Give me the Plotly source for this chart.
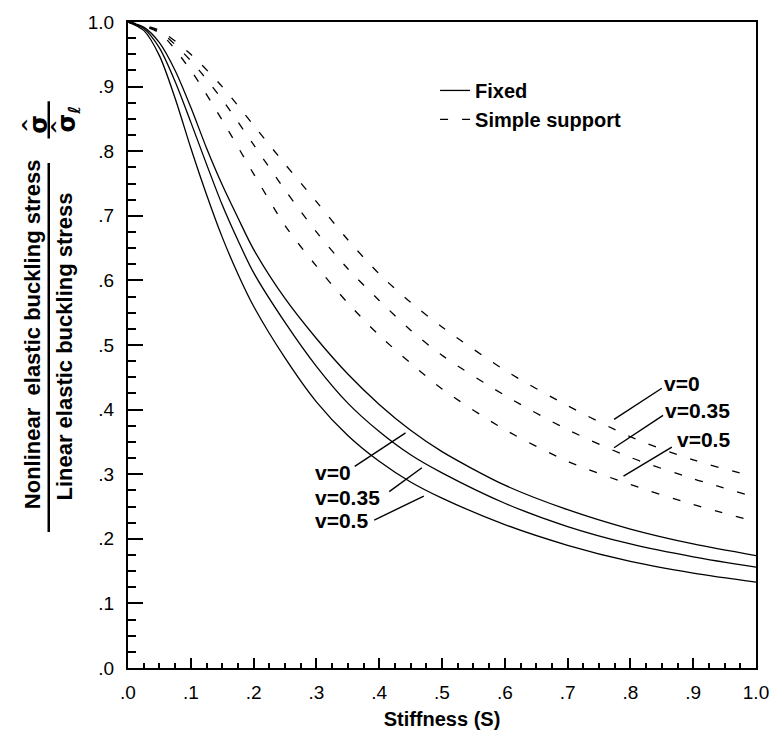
import plotly.graph_objects as go

# ---------------- data ----------------
S_fixed = [0, 0.025, 0.05, 0.075, 0.1, 0.125, 0.15, 0.175, 0.2, 0.25, 0.3,
           0.35, 0.4, 0.45, 0.5, 0.6, 0.7, 0.8, 0.9, 1.0]
fixed_nu0 = [1.0, 0.992, 0.968, 0.925, 0.868, 0.805, 0.748, 0.697, 0.648, 0.572,
             0.51, 0.455, 0.408, 0.368, 0.335, 0.283, 0.245, 0.215, 0.192, 0.174]
fixed_nu035 = [1.0, 0.99, 0.96, 0.908, 0.845, 0.78, 0.717, 0.662, 0.612, 0.535,
               0.467, 0.41, 0.366, 0.33, 0.302, 0.255, 0.219, 0.192, 0.172, 0.156]
fixed_nu05 = [1.0, 0.987, 0.948, 0.882, 0.805, 0.733, 0.667, 0.61, 0.56, 0.48,
              0.412, 0.36, 0.32, 0.288, 0.263, 0.222, 0.19, 0.165, 0.147, 0.133]

S_simple = [0, 0.05, 0.1, 0.15, 0.2, 0.25, 0.3, 0.35, 0.4, 0.45, 0.5, 0.6,
            0.7, 0.8, 0.9, 0.99]
simple_nu0 = [1.0, 0.987, 0.95, 0.90, 0.84, 0.78, 0.722, 0.663, 0.61, 0.566,
              0.528, 0.461, 0.406, 0.358, 0.322, 0.298]
simple_nu035 = [1.0, 0.985, 0.94, 0.88, 0.81, 0.74, 0.675, 0.618, 0.569, 0.523,
                0.484, 0.422, 0.369, 0.326, 0.293, 0.267]
simple_nu05 = [1.0, 0.983, 0.925, 0.848, 0.765, 0.685, 0.622, 0.565, 0.515,
               0.472, 0.432, 0.369, 0.32, 0.284, 0.253, 0.229]

x_tick_vals = [0, 0.1, 0.2, 0.3, 0.4, 0.5, 0.6, 0.7, 0.8, 0.9, 1.0]
x_tick_text = [".0", ".1", ".2", ".3", ".4", ".5", ".6", ".7", ".8", ".9", "1.0"]
y_tick_vals = [0, 0.1, 0.2, 0.3, 0.4, 0.5, 0.6, 0.7, 0.8, 0.9, 1.0]
y_tick_text = [".0", ".1", ".2", ".3", ".4", ".5", ".6", ".7", ".8", ".9", "1.0"]

nu_labels = ["v=0", "v=0.35", "v=0.5"]
# label anchor points (S, ratio) and leader line end points
fixed_label_pos = [(0.295, 0.302), (0.295, 0.264), (0.295, 0.229)]
fixed_leaders = [((0.361, 0.312), (0.442, 0.364)),
                 ((0.416, 0.273), (0.468, 0.310)),
                 ((0.392, 0.229), (0.471, 0.266))]
simple_label_pos = [(0.850, 0.441), (0.852, 0.398), (0.871, 0.353)]
simple_leaders = [((0.774, 0.385), (0.850, 0.433)),
                  ((0.774, 0.341), (0.852, 0.391)),
                  ((0.789, 0.297), (0.866, 0.342))]

FONT = "Liberation Sans"

fig = go.Figure()
for i, ys in enumerate([fixed_nu0, fixed_nu035, fixed_nu05]):
    fig.add_trace(go.Scatter(
        x=S_fixed, y=ys, mode="lines", name="Fixed", legendgroup="fixed",
        showlegend=(i == 0),
        line=dict(color="black", width=1.3, shape="spline", smoothing=0.8)))
for i, ys in enumerate([simple_nu0, simple_nu035, simple_nu05]):
    fig.add_trace(go.Scatter(
        x=S_simple, y=ys, mode="lines", name="Simple support",
        legendgroup="simple", showlegend=(i == 0),
        line=dict(color="black", width=1.3, dash="8px,14px",
                  shape="spline", smoothing=0.8)))

annotations = []
shapes = []
for (lx, ly), txt in zip(fixed_label_pos + simple_label_pos, nu_labels + nu_labels):
    annotations.append(dict(x=lx, y=ly, xref="x", yref="y", text=txt,
                            showarrow=False, xanchor="left", yanchor="middle",
                            font=dict(family=FONT, size=21, color="black",
                                      weight="bold")))
for (p0, p1) in fixed_leaders + simple_leaders:
    shapes.append(dict(type="line", xref="x", yref="y", x0=p0[0], y0=p0[1],
                       x1=p1[0], y1=p1[1],
                       line=dict(color="black", width=1.4)))

# y-axis title built as a fraction
W, H = 781, 739
L, R, T, B = 128, 19, 16, 63
pw, ph = W - L - R, H - T - B


def px(xp):
    return (xp - L) / pw


def py(yp):
    return 1 - (yp - T) / ph


title_font = dict(family=FONT, size=22, color="black", weight="bold")
sigma_font = dict(family="DejaVu Sans", size=24, color="black", weight="bold")
hat_font = dict(family="DejaVu Sans", size=18, color="black", weight="bold")
annotations += [
    dict(x=px(31), y=py(335), xref="paper", yref="paper",
         text="Nonlinear  elastic buckling stress", textangle=-90,
         showarrow=False, xanchor="center", yanchor="middle", font=title_font),
    dict(x=px(64), y=py(348), xref="paper", yref="paper",
         text="Linear elastic buckling stress", textangle=-90,
         showarrow=False, xanchor="center", yanchor="middle", font=title_font),
    # sigma-hat over sigma-hat-ell
    dict(x=px(38), y=py(120), xref="paper", yref="paper",
         text="σ", textangle=-90,
         showarrow=False, xanchor="center", yanchor="middle", font=sigma_font),
    dict(x=px(28), y=py(121), xref="paper", yref="paper",
         text="^", textangle=-90,
         showarrow=False, xanchor="center", yanchor="middle", font=hat_font),
    dict(x=px(68), y=py(115), xref="paper", yref="paper",
         text="σ<sub>ℓ</sub>", textangle=-90,
         showarrow=False, xanchor="center", yanchor="middle", font=sigma_font),
    dict(x=px(57), y=py(123), xref="paper", yref="paper",
         text="^", textangle=-90,
         showarrow=False, xanchor="center", yanchor="middle", font=hat_font),
]
shapes += [
    dict(type="line", xref="paper", yref="paper", x0=px(48), x1=px(48),
         y0=py(160), y1=py(537), line=dict(color="black", width=2.5)),
    dict(type="line", xref="paper", yref="paper", x0=px(48), x1=px(48),
         y0=py(97), y1=py(135), line=dict(color="black", width=2.5)),
]

fig.update_layout(
    width=W, height=H,
    margin=dict(l=L, r=R, t=T, b=B),
    paper_bgcolor="white", plot_bgcolor="white",
    font=dict(family=FONT, color="black", size=16),
    showlegend=True,
    legend=dict(x=px(438), y=py(66), xanchor="left", yanchor="top",
                bgcolor="rgba(0,0,0,0)", tracegroupgap=0,
                font=dict(family=FONT, size=20, color="black", weight="bold")),
    annotations=annotations,
    shapes=shapes,
    xaxis=dict(range=[0, 1], showgrid=False, zeroline=False,
               showline=True, linecolor="black", linewidth=2, mirror=True,
               ticks="inside", ticklen=10, tickwidth=1.8, tickcolor="black",
               tickvals=x_tick_vals, ticktext=x_tick_text,
               tickfont=dict(family=FONT, size=19, color="black"),
               ticklabelstandoff=6,
               minor=dict(ticks="inside", ticklen=5, dtick=0.025,
                          tickwidth=1.5, tickcolor="black", showgrid=False),
               title=dict(text="Stiffness (S)", standoff=10,
                          font=dict(family=FONT, size=20, color="black",
                                    weight="bold"))),
    yaxis=dict(range=[0, 1], showgrid=False, zeroline=False,
               showline=True, linecolor="black", linewidth=2, mirror=True,
               ticks="inside", ticklen=15, tickwidth=1.8, tickcolor="black",
               tickvals=y_tick_vals, ticktext=y_tick_text,
               tickfont=dict(family=FONT, size=19, color="black"),
               ticklabelstandoff=8,
               minor=dict(ticks="inside", ticklen=8, dtick=0.025,
                          tickwidth=1.5, tickcolor="black", showgrid=False)),
)

fig.write_html("out.html")
